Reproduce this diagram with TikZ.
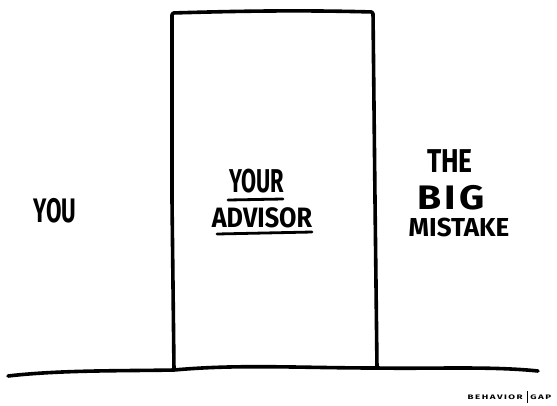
\documentclass[tikz,border=0pt]{standalone}
\usepackage{fontspec}
\setmainfont{Fira Sans}
\tikzset{
  ink/.style={line width=3.6pt, line cap=round, line join=round, black},
  inkthin/.style={line width=2.8pt, line cap=round, black},
  hand/.style={inner sep=0pt, anchor=center},
  fs/.style={font=\fontsize{#1}{#1}\selectfont\bfseries},
  sig/.style={font=\fontsize{6.5}{6.5}\selectfont\bfseries, inner sep=0pt, xscale=1.5},
}
\begin{document}
\begin{tikzpicture}[x=1pt,y=-1pt]
\useasboundingbox (0,0) rectangle (557,405);
% ground
\coordinate (g0) at (8,376);
\coordinate (g1) at (174,370);
\coordinate (g2) at (377,368);
\coordinate (g3) at (538,371);
\draw[ink] (g0) .. controls (60,370) and (120,371) .. (g1)
  .. controls (240,364) and (300,368) .. (g2)
  .. controls (430,369) and (490,366) .. (g3);
% door
\coordinate (dl) at (174,370);
\coordinate (tl) at (172,13);
\coordinate (tr) at (373,12);
\coordinate (dr) at (377,368);
\draw[ink, rounded corners=2pt] (dl) -- (172,200) -- (tl) .. controls (240,11) and (300,10) .. (tr) -- (375,200) -- (dr);
% texts
\node[hand, fs=34, xscale=0.66] (you) at (55,211) {YOU};
\node[hand, fs=33, xscale=0.66] (your) at (257,181) {YOUR};
\node[hand, fs=28, xscale=0.9] (advisor) at (262,218) {ADVISOR};
\draw[inkthin] (228,200) -- (283,199);
\draw[inkthin] (217,234) -- (312,232);
\node[hand, fs=33, xscale=0.8] (the) at (450,161) {THE};
\node[hand, fs=34, xscale=1.15, text height=23.4pt, text depth=0pt] (big) at (451,198) {B\kern3pt I\kern3pt G};
\node[hand, fs=26, text height=18pt, text depth=0pt] (mistake) at (459,227) {MISTAKE};
% signature
\node[sig, anchor=east] (beh) at (523,397) {B\kern1pt E\kern1pt H\kern1pt A\kern1pt V\kern1pt I\kern1pt O\kern1pt R};
\node[sig, anchor=west] (gap) at (530,397) {G\kern1pt A\kern1pt P};
\coordinate (b1) at (527,391);
\coordinate (b2) at (527,403);
\draw[line width=0.6pt] (b1) -- (b2);
\end{tikzpicture}
\end{document}
